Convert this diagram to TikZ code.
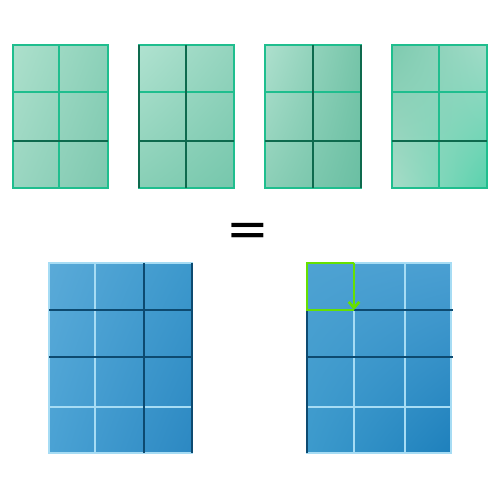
\documentclass[tikz,border=0pt]{standalone}
\usepackage{fontspec}
\newfontfamily\eqfont{DejaVu Sans}
\usetikzlibrary{arrows.meta,shadings}

\definecolor{tealline}{HTML}{1FBE8E}
\definecolor{tealdark}{HTML}{0E6A4E}
\definecolor{bluelight}{HTML}{A6DCF4}
\definecolor{bluedark}{HTML}{0D4A70}
\definecolor{limegreen}{HTML}{66E000}
% fills
\definecolor{ga1}{HTML}{ADE0CC}\definecolor{ga2}{HTML}{8CD1B9}\definecolor{ga3}{HTML}{9AD6C1}\definecolor{ga4}{HTML}{7EC8AF}
\definecolor{gb1}{HTML}{B0E2D0}\definecolor{gb2}{HTML}{94D4BE}\definecolor{gb3}{HTML}{88CFB6}\definecolor{gb4}{HTML}{76C7AC}
\definecolor{gc1}{HTML}{AEE0CE}\definecolor{gc2}{HTML}{76C5A9}\definecolor{gc3}{HTML}{8CCFB7}\definecolor{gc4}{HTML}{6ABFA3}
\definecolor{gd1}{HTML}{7ECAAF}\definecolor{gd2}{HTML}{A2DCC8}\definecolor{gd3}{HTML}{A8DCC8}\definecolor{gd4}{HTML}{58D2AD}
\definecolor{ba1}{HTML}{5AAAD8}\definecolor{ba2}{HTML}{3C98CC}\definecolor{ba3}{HTML}{4AA2D4}\definecolor{ba4}{HTML}{2C88C2}
\definecolor{bb1}{HTML}{4EA2D2}\definecolor{bb2}{HTML}{4A9FD2}\definecolor{bb3}{HTML}{3C9ACC}\definecolor{bb4}{HTML}{1E80BC}

\begin{document}
\begin{tikzpicture}[x=0.02cm,y=-0.02cm]
\tikzstyle{every node}=[inner sep=0pt, outer sep=0pt]
\tikzstyle{gline}=[draw=tealline, line width=1.15pt]
\tikzstyle{gdark}=[draw=tealdark, line width=1.15pt]
\tikzstyle{bline}=[draw=bluelight, line width=1.15pt]
\tikzstyle{bdark}=[draw=bluedark, line width=1.15pt]
\tikzstyle{hilite}=[draw=limegreen, line width=1.5pt]
\useasboundingbox (0,0) rectangle (500,500);

% green pieces
\shade[upper left=ga1, upper right=ga2, lower left=ga3, lower right=ga4] (13,45) rectangle (108,188);
\shade[upper left=gb1, upper right=gb2, lower left=gb3, lower right=gb4] (139,45) rectangle (234,188);
\shade[upper left=gc1, upper right=gc2, lower left=gc3, lower right=gc4] (265,45) rectangle (361,188);
\shade[upper left=gd1, upper right=gd2, lower left=gd3, lower right=gd4] (392,45) rectangle (487,188);

\draw[gline] (13,45) rectangle (108,188);
\draw[gline] (59,45) -- (59,188);
\draw[gline] (13,92) -- (108,92);
\draw[gdark] (13,141) -- (108,141);

\draw[gline] (139,45) rectangle (234,188);
\draw[gline] (139,92) -- (234,92);
\draw[gdark] (139,45) -- (139,188);
\draw[gdark] (186,45) -- (186,188);
\draw[gdark] (139,141) -- (234,141);

\draw[gline] (265,45) rectangle (361,188);
\draw[gline] (265,92) -- (361,92);
\draw[gdark] (313,45) -- (313,188);
\draw[gdark] (361,45) -- (361,188);
\draw[gdark] (265,141) -- (361,141);

\draw[gline] (392,45) rectangle (487,188);
\draw[gline] (439,45) -- (439,188);
\draw[gline] (392,92) -- (487,92);
\draw[gdark] (392,141) -- (487,141);

% equals
\node (eq) at (248,235) {\eqfont\fontsize{29}{29}\selectfont =};

% blue blocks
\shade[upper left=ba1, upper right=ba2, lower left=ba3, lower right=ba4] (49,263) rectangle (192,453);
\shade[upper left=bb1, upper right=bb2, lower left=bb3, lower right=bb4] (307,263) rectangle (451,453);

\draw[bline] (49,263) rectangle (192,453);
\draw[bline] (95,263) -- (95,453);
\draw[bline] (49,407) -- (192,407);
\draw[bdark] (144,263) -- (144,453);
\draw[bdark] (192,263) -- (192,453);
\draw[bdark] (49,310) -- (192,310);
\draw[bdark] (49,357) -- (192,357);

\draw[bline] (307,263) rectangle (451,453);
\draw[bline] (354,263) -- (354,453);
\draw[bline] (405,263) -- (405,453);
\draw[bline] (307,407) -- (451,407);
\draw[bdark] (307,263) -- (307,453);
\draw[bdark] (307,310) -- (453,310);
\draw[bdark] (307,357) -- (453,357);

% first cell
\coordinate (c1) at (307,310);
\coordinate (c2) at (307,263);
\coordinate (c3) at (354,263);
\coordinate (c4) at (354,310);
\draw[hilite] (c4) -- (c1) -- (c2) -- (c3);
\draw[hilite, -{Straight Barb[length=3.5pt,width=6pt]}] (c3) -- (c4);
\end{tikzpicture}
\end{document}
